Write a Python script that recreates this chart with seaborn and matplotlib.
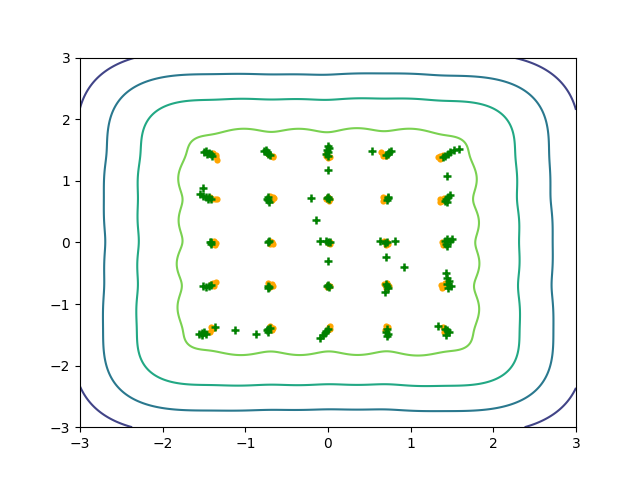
import numpy as np
import matplotlib
matplotlib.use("Agg")
import matplotlib.pyplot as plt
import seaborn as sns

# ---- data ----
orange_x = [-1.39, -1.36, -1.35, -1.34,  -0.72, -0.69, -0.67, -0.66,  -0.03, 0.00, 0.02, -0.02,
            0.64, 0.67, 0.70, 0.66,  1.33, 1.36, 1.39, 1.35,
            -1.43, -1.40, -1.37, -1.34,  -0.70, -0.67, -0.68, -0.65,  0.00, 0.02, -0.02, 0.01,
            0.66, 0.68, 0.66, 0.70,  1.36, 1.38, 1.36, 1.40,
            -1.38, -1.36, -1.37, -1.40,  -0.70, -0.68, -0.70, -0.67,  0.01, 0.03, 0.02, 0.00,
            0.68, 0.71, 0.73, 0.70,  1.38, 1.41, 1.39, 1.43,
            -1.42, -1.39, -1.36, -1.38,  -0.72, -0.68, -0.70, -0.66,  0.00, 0.02, -0.01, 0.01,
            0.68, 0.71, 0.74, 0.70,  1.37, 1.39, 1.41, 1.38,
            -1.42, -1.40, -1.38, -1.43,  -0.70, -0.67, -0.68, -0.70,  0.02, 0.03, 0.01, 0.00,
            0.70, 0.72, 0.69, 0.71,  1.39, 1.42, 1.44, 1.40]
orange_y = [1.45, 1.42, 1.38, 1.34,  1.44, 1.41, 1.38, 1.40,  1.40, 1.37, 1.39, 1.43,
            1.46, 1.43, 1.41, 1.40,  1.38, 1.40, 1.42, 1.36,
            0.74, 0.71, 0.70, 0.70,  0.76, 0.73, 0.69, 0.72,  0.74, 0.71, 0.70, 0.68,
            0.74, 0.70, 0.68, 0.72,  0.70, 0.67, 0.65, 0.72,
            0.02, -0.01, -0.04, -0.02,  0.02, 0.00, -0.02, -0.03,  0.01, 0.00, -0.02, -0.01,
            0.03, 0.00, -0.03, -0.05,  0.01, -0.02, -0.05, 0.03,
            -0.68, -0.66, -0.64, -0.70,  -0.66, -0.68, -0.72, -0.70,  -0.69, -0.71, -0.72, -0.70,
            -0.68, -0.66, -0.70, -0.74,  -0.69, -0.72, -0.66, -0.74,
            -1.37, -1.41, -1.39, -1.45,  -1.36, -1.39, -1.43, -1.41,  -1.36, -1.40, -1.38, -1.42,
            -1.35, -1.38, -1.42, -1.40,  -1.38, -1.41, -1.44, -1.45]

green_x = [-1.50, -1.47, -1.44, -1.42, -1.46, -1.40,
           -0.77, -0.74, -0.72, -0.75, -0.70,
           -0.01, 0.00, -0.02, 0.01, 0.00, 0.00,
           0.72, 0.74, 0.76, 0.70, 0.53,
           1.39, 1.42, 1.45, 1.48, 1.52, 1.58, 1.44,
           -1.51, -1.47, -1.44, -1.41, -1.45, -1.51, -1.55,
           -0.72, -0.73, -0.71, -0.74,
           -0.01, 0.01, 0.00, -0.20, -0.15, 0.00,
           0.72, 0.71, 0.73,
           1.43, 1.45, 1.47, 1.44, 1.41,
           -1.43, -1.41, -1.42,
           -0.72, -0.71,
           -0.10, 0.00, 0.02, -0.03,
           0.63, 0.81, 0.71, 0.69, 0.70, 0.92,
           1.41, 1.44, 1.47, 1.43, 1.50, 1.44,
           -1.51, -1.47, -1.44, -1.41,
           -0.72, -0.73, -0.71,
           0.00, 0.01, -0.01, 0.00,
           0.71, 0.70, 0.72, 0.69,
           1.43, 1.44, 1.46, 1.44, 1.49, 1.45,
           -1.56, -1.53, -1.50, -1.52, -1.48, -1.37,
           -0.73, -0.72, -0.74, -0.70, -1.13, -0.87,
           -0.02, -0.04, -0.06, -0.10, 0.00,
           0.71, 0.70, 0.72, 0.71,
           1.33, 1.41, 1.44, 1.46, 1.43]
green_y = [1.46, 1.48, 1.45, 1.43, 1.44, 1.41,
           1.48, 1.46, 1.44, 1.50, 1.42,
           1.50, 1.46, 1.43, 1.53, 1.40, 1.56,
           1.44, 1.47, 1.49, 1.42, 1.48,
           1.38, 1.41, 1.44, 1.47, 1.50, 1.52, 1.08,
           0.76, 0.74, 0.73, 0.71, 0.70, 0.89, 0.79,
           0.73, 0.69, 0.65, 0.71,
           0.72, 0.70, 0.73, 0.72, 0.36, 1.18,
           0.72, 0.69, 0.74,
           0.70, 0.74, 0.77, 0.66, 0.68,
           0.01, 0.00, -0.02,
           0.00, 0.02,
           0.03, 0.00, 0.01, 0.02,
           0.02, 0.02, 0.01, -0.01, -0.24, -0.40,
           0.02, 0.05, 0.03, -0.03, 0.05, -0.06,
           -0.71, -0.72, -0.70, -0.69,
           -0.70, -0.74, -0.72,
           -0.69, -0.72, -0.70, -0.30,
           -0.71, -0.67, -0.74, -0.81,
           -0.49, -0.57, -0.63, -0.68, -0.70, -0.74,
           -1.49, -1.47, -1.45, -1.50, -1.48, -1.38,
           -1.41, -1.45, -1.43, -1.39, -1.42, -1.49,
           -1.44, -1.47, -1.50, -1.55, -1.41,
           -1.41, -1.45, -1.48, -1.52,
           -1.36, -1.40, -1.43, -1.46, -1.50]

# generalized-normal product kernel (exponent, scale) and log-density levels
kernel_power = 3.0
kernel_scale = 0.5
contour_levels = [-38.5, -18.6, -6.6, -1.06]
level_shades = [0.2, 0.4, 0.6, 0.8]

# ---- density field from the orange samples ----
grid = np.linspace(-3, 3, 401)
X, Y = np.meshgrid(grid, grid)
ox = np.asarray(orange_x)
oy = np.asarray(orange_y)
e = -((np.abs(X[..., None] - ox) / kernel_scale) ** kernel_power
      + (np.abs(Y[..., None] - oy) / kernel_scale) ** kernel_power)
m = e.max(axis=-1, keepdims=True)
logF = (m + np.log(np.exp(e - m).sum(axis=-1, keepdims=True)))[..., 0]
logF -= logF.max()

fig, ax = plt.subplots(figsize=(6.4, 4.8), dpi=100)
cmap = plt.get_cmap("viridis")
ax.contour(X, Y, logF, levels=contour_levels,
           colors=[cmap(v) for v in level_shades], linewidths=1.5)

sns.scatterplot(x=orange_x, y=orange_y, color="orange", s=20, linewidth=0,
                ax=ax, zorder=3)
sns.scatterplot(x=green_x, y=green_y, color="green", marker="+", s=36,
                linewidth=1.8, ax=ax, zorder=4)

ax.set_xlim(-3, 3)
ax.set_ylim(-3, 3)
fig.savefig("out.png", dpi=100)
